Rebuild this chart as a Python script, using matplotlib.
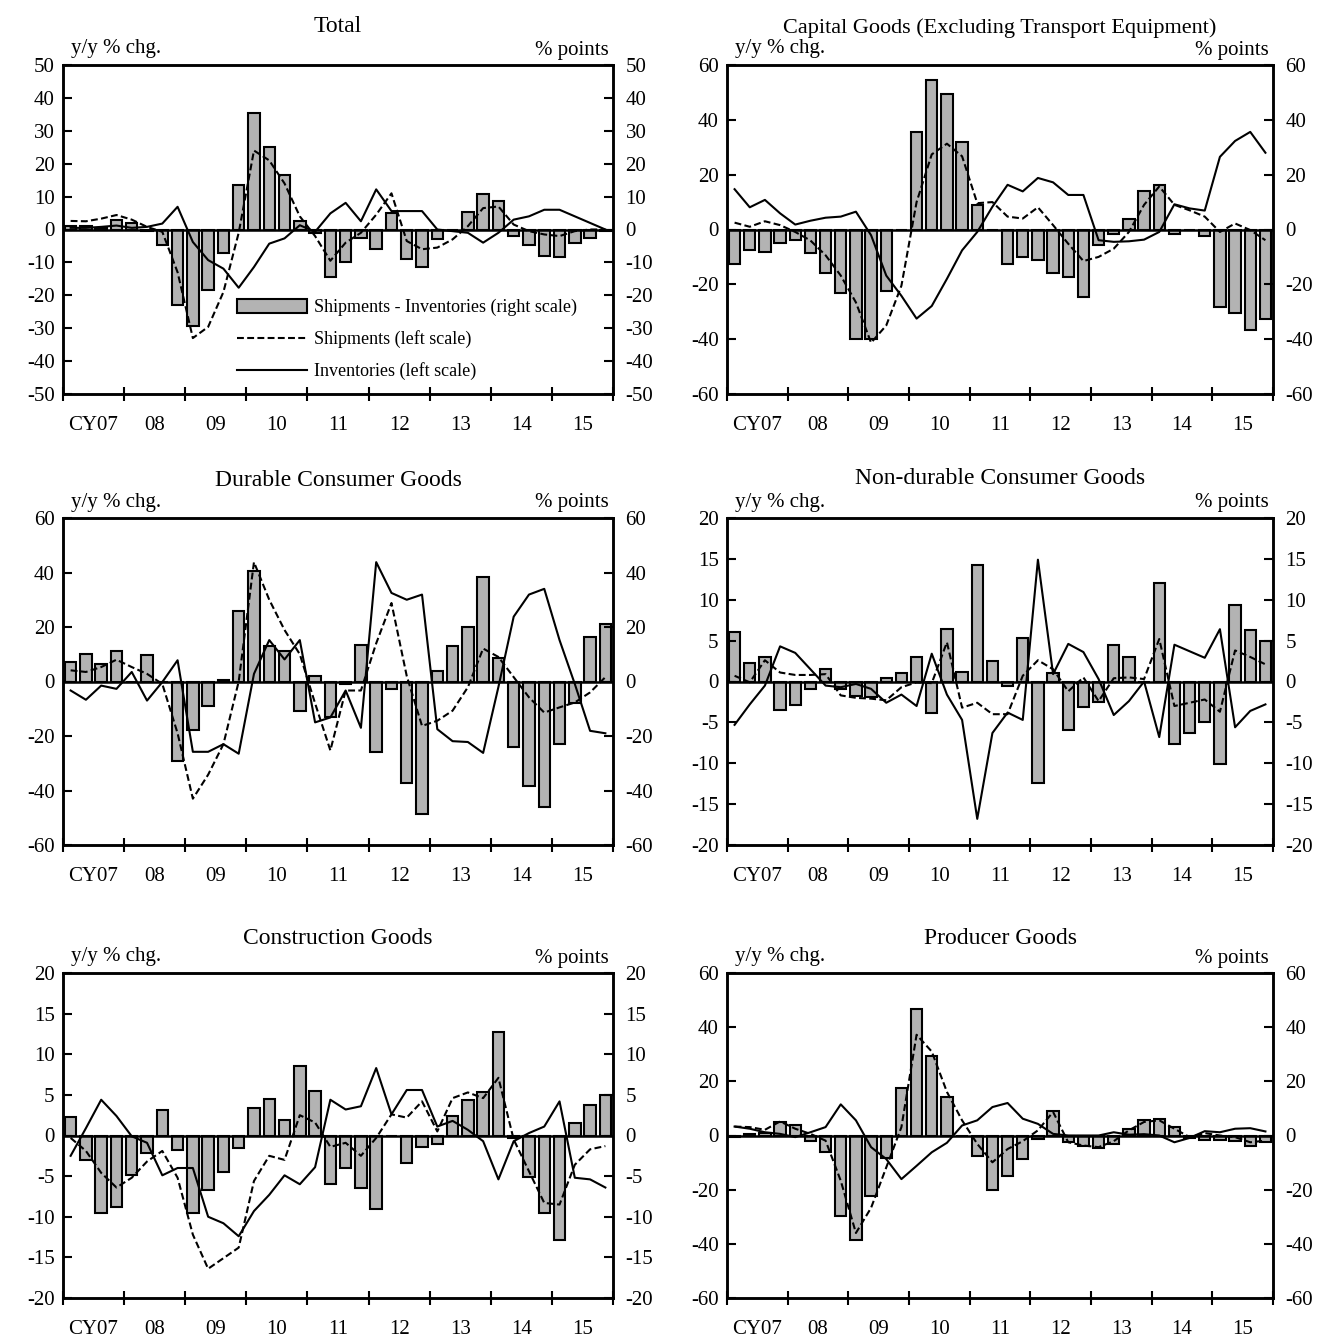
import matplotlib

matplotlib.use("Agg")

import matplotlib.pyplot as plt
import numpy as np
from matplotlib.lines import Line2D
from matplotlib.patches import Patch

plt.rcParams.update(
    {
        "font.family": "Liberation Serif",
        "font.size": 15,
        "axes.unicode_minus": False,
        "axes.linewidth": 1.8,
    }
)

year_labels = ["CY07", "08", "09", "10", "11", "12", "13", "14", "15"]

# quarterly values, CY07Q1 .. CY15Q4
total_gap = [1, 1, 0.5, 3, 2, -0.5, -4.8, -23, -29.3, -18.3, -7, 13.5, 35.3, 25.2, 16.5, 2.7, -1, -14.4,
             -10, -2.7, -6, 5, -9, -11.5, -3, 0, 5.2, 10.9, 8.8, -2, -4.8, -8, -8.4, -4, -2.5, -0.5]
total_ship = [2.6, 2.5, 3.3, 4.4, 3.0, 0.8, -0.7, -13, -33, -29.6, -19, -1, 24, 21, 14, 4, -2, -9.5,
              -4, -1, 4.5, 11, -3.5, -6, -5.5, -3, 1, 6.5, 7, 1.5, -0.5, -1.5, -2, -0.5, 0, 0]
total_inv = [0.5, 0.5, 0.8, 1.2, 0.5, 0.8, 1.8, 6.9, -3.8, -9.3, -11.9, -17.7, -11.4, -4.3, -2.7, 1.3, -0.7, 4.9,
             8.1, 2.5, 12.2, 5.6, 5.6, 5.6, 0, -0.5, -1, -4, -1, 3, 4, 6, 6, 4, 2, 0]

capital_gap = [-12.5, -7.4, -8.2, -4.9, -3.9, -8.6, -16, -23.2, -39.9, -39.9, -22.3, 0, 35.6, 54.4, 49.4, 31.9, 9, 0,
               -12.6, -10, -11, -16, -17.4, -24.8, -5.8, -1.8, 4, 14.2, 16.3, -1.8, 0, -2.3, -28.2, -30.6, -36.8, -32.8]
capital_ship = [2.5, 1, 3, 1.6, -0.9, -4, -9.4, -16.8, -26.6, -41.3, -35, -20.5, 10, 27.4, 31.3, 26.7, 9.6, 10,
                4.7, 4, 8.1, 1.6, -5.2, -11.5, -10, -7, -0.9, 9, 15.7, 9, 7, 4.7, -0.9, 2.2, -0.2, -3.9]
capital_inv = [14.7, 8.1, 10.8, 5.9, 1.8, 3.2, 4.3, 4.7, 6.5, -2.1, -16.8, -24.2, -32.5, -27.9, -18, -7.6, -0.9, 8.3,
               16.3, 13.9, 18.8, 17.2, 12.6, 12.6, -3.9, -4.5, -4.3, -3.7, -0.9, 9.2, 7.7, 6.9, 26.5, 32.3, 35.6, 28]

durable_gap = [7.2, 10, 6.3, 11.1, 0, 9.9, 0, -29, -17.9, -8.9, 0.6, 25.7, 40.5, 13, 11.1, -11, 1.9, -13,
               -1.1, 13.3, -25.8, -2.7, -37.3, -48.8, 3.8, 13, 20.1, 38.4, 8.6, -24.1, -38.5, -45.9, -23.1, -8, 16.4, 21]
durable_ship = [4.1, 3.5, 5.3, 8, 5.3, 2.8, -0.9, -19, -43, -34.2, -23, 0, 43.8, 30, 18.9, 10, -8, -25.3,
                -3.3, -3.3, 14, 28.8, 2, -16.3, -14.4, -10.7, -2.1, 12.1, 9, 1.6, -5.8, -11.4, -9.5, -7.7, -4, 1.6]
durable_inv = [-3.3, -6.7, -1.5, -2.7, 3.5, -7, -0.2, 7.8, -25.8, -25.8, -23, -26.5, 2.8, 15.2, 8.1, 15.2, -15, -13.2,
               -3.3, -17, 43.8, 32.5, 30, 31.9, -17.5, -21.9, -22.2, -26.2, -2, 23.8, 31.9, 34, 15.2, -0.9, -18.1, -19]

nondur_gap = [6, 2.3, 3, -3.5, -2.9, -0.9, 1.5, -0.9, -1.8, -1.9, 0.4, 1.1, 3, -3.9, 6.4, 1.2, 14.3, 2.5,
              -0.5, 5.3, -12.4, 1, -5.9, -3.1, -2.5, 4.5, 3, 0, 12, -7.6, -6.3, -5, -10.1, 9.3, 6.3, 5]
nondur_ship = [0.7, -0.1, 2.6, 1.1, 0.8, 0.8, 0.9, -1.7, -2, -2.1, -2.3, -0.7, -0.1, -0.2, 4.8, -3.2, -2.6, -4,
               -4, 0.7, 2.6, 1.5, -1.2, 0.5, -2.4, 0.4, 0.5, 0.3, 5.2, -3, -2.6, -2.2, -3.7, 3.8, 3, 2.1]
nondur_inv = [-5.3, -2.8, -0.5, 4.3, 3.5, 1.5, -0.5, -0.7, -0.3, -0.9, -2.6, -1.6, -3, 3.4, -1.6, -4.7, -16.8, -6.3,
              -3.8, -4.7, 14.9, 0.9, 4.6, 3.6, 0.3, -4.1, -2.4, 0, -6.8, 4.5, 3.7, 2.9, 6.4, -5.6, -3.6, -2.8]

constr_gap = [2.3, -3, -9.5, -8.8, -4.8, -2.1, 3.1, -1.8, -9.5, -6.7, -4.5, -1.5, 3.4, 4.5, 1.9, 8.6, 5.5, -6,
              -4, -6.4, -9, 0, -3.4, -1.4, -1.1, 2.4, 4.4, 5.4, 12.7, -0.3, -5.1, -9.5, -12.9, 1.6, 3.7, 5]
constr_ship = [-0.3, -1.9, -4.6, -6.4, -5.2, -3.2, -1.9, -5.2, -12.2, -16.4, -15.1, -13.8, -5.6, -2.5, -3, 2.5, 1.6, -1.4,
               -0.9, -2.5, -0.3, 2.6, 2.2, 4.2, 0.5, 4.6, 5.3, 4.6, 7.1, -0.5, -4.4, -8.3, -8.5, -3.6, -1.7, -1.3]
constr_inv = [-2.5, 0.9, 4.4, 2.4, -0.1, -0.9, -4.9, -4, -4, -10, -10.8, -12.4, -9.3, -7.3, -4.9, -6, -3.9, 4.4,
              3.2, 3.6, 8.3, 2.6, 5.6, 5.6, 1.1, 1.8, 0.7, -0.7, -5.4, -0.7, 0.3, 1.1, 4.2, -5.2, -5.4, -6.4]

producer_gap = [-0.5, 0.5, 1, 5, 3.7, -1.9, -6, -29.8, -38.5, -22.3, -8.4, 17.4, 46.8, 29.2, 14.3, 0, -7.7, -20.2,
                -14.9, -8.7, -1.2, 9.1, -2.4, -3.7, -4.6, -3.3, 2.5, 5.6, 6.2, 3.3, -0.9, -1.5, -1.5, -1.9, -3.7, -2.5]
producer_ship = [3.3, 3.1, 2.1, 5.2, 2.5, 0.6, -1.9, -16.7, -36, -26.7, -11.8, 3.1, 37.2, 31, 16.1, 5.6, -3.1, -9.9,
                 -5, -2.1, 1.9, 8.7, -2.5, -3.7, -4.3, -2.1, 1.9, 5, 5.6, 2.5, -0.6, 0.9, 0, -0.6, -2.5, -1.9]
producer_inv = [3.3, 2.5, 1.2, 0.6, -0.6, 1.2, 3.1, 11.5, 5.6, -4.3, -8.7, -16.1, -11.2, -6.2, -2.7, 3.7, 5.6, 10.5,
                12, 6.2, 4.3, 0.6, 0, 0, 0, 1.2, 0.3, 0.5, 0, -2.5, -0.9, 1.6, 1.2, 2.5, 2.7, 1.5]

W, H = 1341, 1338
PT = 0.72  # points per pixel at dpi 100
BAR_COLOR = "#b3b3b3"
DASH = (0, (3.3, 1.6))


def draw_panel(rect, title, gap, ship, inv, lim, step, title_dy, title_size=17):
    left, top, right, bottom = rect
    ax = fig.add_axes([left / W, 1 - bottom / H, (right - left) / W, (bottom - top) / H])
    ax2 = ax.twinx()
    x = np.arange(len(gap))

    ax2.bar(x, gap, width=0.75, color=BAR_COLOR, edgecolor="black", linewidth=1.5)
    ax.plot(x, ship, color="black", lw=1.5, ls=DASH)
    ax.plot(x, inv, color="black", lw=1.5)
    ax.axhline(0, color="black", lw=1.8)
    ax.set_zorder(ax2.get_zorder() + 1)
    ax.patch.set_visible(False)

    ticks = np.arange(-lim, lim + 1, step)
    for a in (ax, ax2):
        a.set_ylim(-lim, lim)
        a.set_yticks(ticks)
        a.set_xlim(-0.5, len(gap) - 0.5)
        a.tick_params(axis="y", direction="in", length=6.5, width=1.5, labelsize=15)
    ax.tick_params(axis="y", pad=6)
    ax2.tick_params(axis="y", pad=9)

    ax.set_xticks(np.arange(-0.5, len(gap), 4))
    ax.set_xticklabels([])
    ax.set_xticks(np.arange(1.5, len(gap), 4), year_labels, minor=True)
    ax.tick_params(axis="x", which="major", direction="inout", length=10, width=1.5)
    ax.tick_params(axis="x", which="minor", length=0, pad=16, labelsize=15)

    ax.annotate(title, (0.5, 1), xycoords="axes fraction", xytext=(0, title_dy * PT),
                textcoords="offset points", ha="center", va="center", fontsize=title_size)
    ax.annotate("y/y % chg.", (0, 1), xycoords="axes fraction", xytext=(8 * PT, 16 * PT),
                textcoords="offset points", ha="left", va="center")
    ax.annotate("% points", (1, 1), xycoords="axes fraction", xytext=(-4 * PT, 15 * PT),
                textcoords="offset points", ha="right", va="center")
    return ax


fig = plt.figure(figsize=(W / 100, H / 100), dpi=100)

row1 = (65, 394)
row2 = (518, 845)
row3 = (973, 1298)
colL = (63, 613)
colR = (727, 1273)

ax1 = draw_panel((colL[0], row1[0], colL[1], row1[1]), "Total",
                 total_gap, total_ship, total_inv, 50, 10, 38)
draw_panel((colR[0], row1[0], colR[1], row1[1]), "Capital Goods (Excluding Transport Equipment)",
           capital_gap, capital_ship, capital_inv, 60, 20, 37, title_size=16)
draw_panel((colL[0], row2[0], colL[1], row2[1]), "Durable Consumer Goods",
           durable_gap, durable_ship, durable_inv, 60, 20, 37)
draw_panel((colR[0], row2[0], colR[1], row2[1]), "Non-durable Consumer Goods",
           nondur_gap, nondur_ship, nondur_inv, 20, 5, 39)
draw_panel((colL[0], row3[0], colL[1], row3[1]), "Construction Goods",
           constr_gap, constr_ship, constr_inv, 20, 5, 34)
draw_panel((colR[0], row3[0], colR[1], row3[1]), "Producer Goods",
           producer_gap, producer_ship, producer_inv, 60, 20, 34)

handles = [
    Patch(facecolor=BAR_COLOR, edgecolor="black", linewidth=1.5),
    Line2D([], [], color="black", lw=1.5, ls=DASH),
    Line2D([], [], color="black", lw=1.5),
]
labels = ["Shipments - Inventories (right scale)", "Shipments (left scale)", "Inventories (left scale)"]
ax1.legend(handles, labels, loc="upper left", bbox_to_anchor=((237 - 63) / 550, (394 - 299) / 329),
           frameon=False, fontsize=13, handlelength=3.9, handleheight=0.75, handletextpad=0.35,
           labelspacing=0.78, borderpad=0, borderaxespad=0)

fig.savefig("out.png", dpi=100, facecolor="white")
